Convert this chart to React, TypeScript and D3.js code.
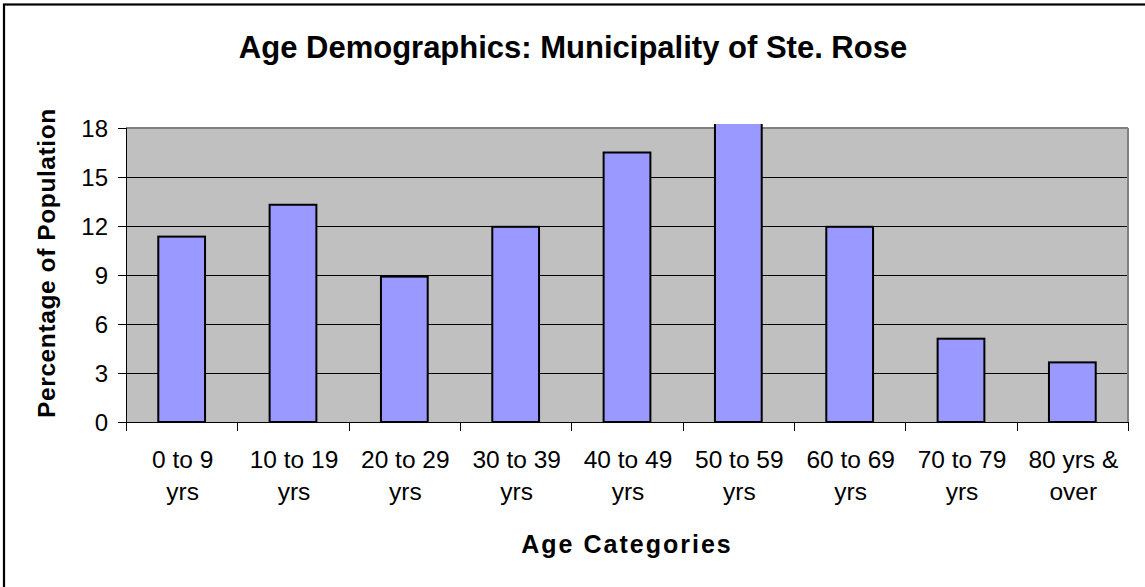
import React from "react";
import * as d3 from "d3";

const categories: string[][] = [
  ["0 to 9", "yrs"],
  ["10 to 19", "yrs"],
  ["20 to 29", "yrs"],
  ["30 to 39", "yrs"],
  ["40 to 49", "yrs"],
  ["50 to 59", "yrs"],
  ["60 to 69", "yrs"],
  ["70 to 79", "yrs"],
  ["80 yrs &", "over"],
];
const values: number[] = [11.35, 13.3, 8.9, 11.95, 16.5, 18.6, 11.95, 5.1, 3.65];
const yTicks: number[] = [0, 3, 6, 9, 12, 15, 18];
const title = "Age Demographics: Municipality of Ste. Rose";
const xTitle = "Age Categories";
const yTitle = "Percentage of Population";

const W = 1145;
const H = 587;
const plot = { left: 126, right: 1128, top: 128, bottom: 422 };
const FONT = "'Liberation Sans', Arial, Helvetica, sans-serif";

export default function App() {
  const keys = categories.map((_, i) => String(i));
  const x = d3
    .scaleBand<string>()
    .domain(keys)
    .range([plot.left, plot.right])
    .paddingInner(0.58)
    .paddingOuter(0.29);
  const y = d3.scaleLinear().domain([0, 18]).range([plot.bottom, plot.top]);
  const step = x.step();
  const boundaries = d3.range(categories.length + 1).map((i) => plot.left + i * step);
  const c = (v: number) => Math.round(v) + 0.5;

  return (
    <svg
      width={W}
      height={H}
      style={{ position: "absolute", left: 0, top: 0, background: "#fff" }}
      fontFamily={FONT}
    >
      <defs>
        <clipPath id="barclip">
          <rect x={plot.left} y={plot.top - 4} width={plot.right - plot.left} height={plot.bottom - plot.top + 4} />
        </clipPath>
      </defs>
      <rect x={0} y={0} width={W} height={H} fill="#fff" />
      {/* outer chart border */}
      <rect x={4} y={4.5} width={W + 10} height={H + 10} fill="none" stroke="#000" strokeWidth={2.2} />

      {/* title */}
      <text x={573} y={58} textAnchor="middle" fontSize={31} fontWeight="bold" fill="#000">
        {title}
      </text>

      {/* plot area */}
      <rect
        x={plot.left}
        y={plot.top}
        width={plot.right - plot.left}
        height={plot.bottom - plot.top}
        fill="#C0C0C0"
      />
      {/* gridlines */}
      {yTicks.map((t) => (
        <line key={"g" + t} x1={plot.left} x2={plot.right} y1={c(y(t))} y2={c(y(t))} stroke="#000" strokeWidth={1} />
      ))}
      {/* plot border top/right */}
      <line x1={plot.left} x2={plot.right} y1={plot.top} y2={plot.top} stroke="#808080" strokeWidth={2} />
      <line x1={plot.right} x2={plot.right} y1={plot.top} y2={plot.bottom} stroke="#808080" strokeWidth={2} />

      {/* bars */}
      <g clipPath="url(#barclip)">
        {values.map((v, i) => (
          <rect
            key={"b" + i}
            x={x(String(i))}
            y={y(v)}
            width={x.bandwidth()}
            height={plot.bottom - y(v)}
            fill="#9999FF"
            stroke="#000"
            strokeWidth={2}
          />
        ))}
      </g>

      {/* axes */}
      <line x1={c(plot.left)} x2={c(plot.left)} y1={plot.top} y2={plot.bottom} stroke="#000" strokeWidth={1} />
      <line x1={plot.left} x2={plot.right} y1={c(plot.bottom)} y2={c(plot.bottom)} stroke="#000" strokeWidth={1} />

      {/* y ticks */}
      {yTicks.map((t) => (
        <g key={"yt" + t}>
          <line x1={plot.left - 8} x2={plot.left} y1={c(y(t))} y2={c(y(t))} stroke="#000" strokeWidth={1} />
          <text x={108} y={y(t)} dy="0.36em" textAnchor="end" fontSize={24} fill="#000">
            {t}
          </text>
        </g>
      ))}

      {/* x ticks */}
      {boundaries.map((bx, i) => (
        <line key={"xt" + i} x1={c(bx)} x2={c(bx)} y1={plot.bottom} y2={plot.bottom + 9} stroke="#000" strokeWidth={1} />
      ))}
      {categories.map((cat, i) => {
        const cx = (x(String(i)) as number) + x.bandwidth() / 2 + 1;
        return (
          <text key={"xl" + i} textAnchor="middle" fontSize={24.5} fill="#000">
            <tspan x={cx} y={468}>
              {cat[0]}
            </tspan>
            <tspan x={cx} y={500}>
              {cat[1]}
            </tspan>
          </text>
        );
      })}

      {/* axis titles */}
      <text x={627} y={553} textAnchor="middle" fontSize={25} fontWeight="bold" letterSpacing={2} fill="#000">
        {xTitle}
      </text>
      <text
        transform={`translate(55, 263) rotate(-90)`}
        textAnchor="middle"
        fontSize={24.5}
        fontWeight="bold"
        letterSpacing={0.6}
        fill="#000"
      >
        {yTitle}
      </text>
    </svg>
  );
}
